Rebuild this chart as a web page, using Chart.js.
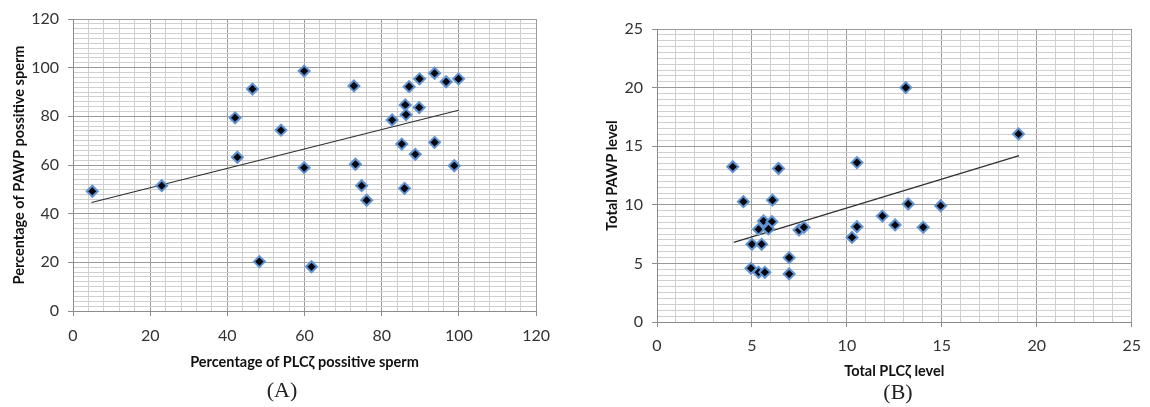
<!DOCTYPE html>
<html>
<head>
<meta charset="utf-8">
<script src="https://cdn.jsdelivr.net/npm/chart.js@4.4.1/dist/chart.umd.min.js"></script>
<style>
  html, body { margin: 0; padding: 0; background: #fff; }
  body { width: 1150px; height: 407px; position: relative; overflow: hidden; }
  .panel { position: absolute; top: 0; }
  .caption {
    position: absolute;
    font-family: "Liberation Serif", "DejaVu Serif", serif;
    font-size: 22px;
    color: #222;
    transform: translateX(-50%);
  }
</style>
</head>
<body>
<div class="panel" style="left:0;width:560px;height:380px;"><canvas id="chartA" width="560" height="380"></canvas></div>
<div class="panel" style="left:580px;width:570px;height:380px;"><canvas id="chartB" width="570" height="380"></canvas></div>
<div class="caption" style="left:282px;top:377px;">(A)</div>
<div class="caption" style="left:898px;top:379px;">(B)</div>

<script>
// Panel A: percentage of positive sperm
const aPlcz = [5, 23, 42, 42.6, 46.5, 48.3, 53.9, 59.9, 59.9, 61.8, 72.8, 73.2, 74.8, 76.1,
  82.7, 85.2, 85.9, 86.1, 86.3, 87.1, 88.7, 89.7, 89.8, 93.7, 93.7, 96.7, 98.8, 99.9];
const aPawp = [49.2, 51.5, 79.4, 63.2, 91.2, 20.3, 74.3, 98.6, 58.9, 18.2, 92.5, 60.3, 51.5, 45.5,
  78.5, 68.6, 50.4, 84.7, 80.7, 92.2, 64.4, 83.6, 95.4, 97.7, 69.3, 94.2, 59.7, 95.4];
const aTrendX = [4.8, 99.9];
const aTrendY = [44.6, 82.5];
const aXLabels = [0, 20, 40, 60, 80, 100, 120];
const aYLabels = [0, 20, 40, 60, 80, 100, 120];

// Panel B: total levels
const bPlcz = [3.99, 4.55, 6.08, 5.61, 6.05, 5.35, 5.87, 5.0, 5.51, 4.95, 5.35, 5.68, 6.96, 6.96,
  7.48, 7.74, 6.4, 10.53, 13.1, 19.04, 10.27, 10.53, 11.87, 12.54, 13.23, 14.02, 14.94];
const bPawp = [13.25, 10.27, 10.4, 8.62, 8.56, 7.91, 7.94, 6.63, 6.63, 4.58, 4.24, 4.24, 5.49, 4.1,
  7.85, 8.08, 13.1, 13.6, 20.0, 16.04, 7.22, 8.13, 9.04, 8.28, 10.07, 8.08, 9.92];
const bTrendX = [4.04, 19.07];
const bTrendY = [6.8, 14.2];
const bXLabels = [0, 5, 10, 15, 20, 25];
const bYLabels = [0, 5, 10, 15, 20, 25];

Chart.defaults.font.family = 'Lato, "Open Sans", sans-serif';
Chart.defaults.color = '#333';

function toPoints(xs, ys) {
  return xs.map((x, i) => ({ x: x, y: ys[i] }));
}

function isMajor(value, labels) {
  return labels.some(l => Math.abs(l - value) < 1e-6);
}

function makeAxis(cfg) {
  const labels = cfg.labels;
  return {
    type: 'linear',
    min: cfg.min,
    max: cfg.max,
    afterFit: (axis) => {
      if (cfg.width) axis.width = cfg.width;
      if (cfg.height) axis.height = cfg.height;
    },
    ticks: {
      stepSize: cfg.step,
      autoSkip: false,
      maxRotation: 0,
      padding: cfg.tickPadding,
      font: { size: 16 },
      color: '#333',
      callback: (value) => isMajor(value, labels) ? String(value) : ''
    },
    grid: {
      color: (ctx) => isMajor(ctx.tick.value, labels) ? '#9a9a9a' : '#cfcfcf',
      tickColor: (ctx) => isMajor(ctx.tick.value, labels) ? '#8c8c8c' : 'rgba(0,0,0,0)',
      tickLength: 5,
      lineWidth: 1
    },
    border: { color: '#8c8c8c', width: 1 },
    title: {
      display: true,
      text: cfg.title,
      color: '#111',
      font: { size: 14.5, weight: 'bold' },
      padding: cfg.titlePadding
    }
  };
}

function makeChart(id, xs, ys, tx, ty, opts) {
  const ctx = document.getElementById(id).getContext('2d');
  return new Chart(ctx, {
    type: 'scatter',
    data: {
      datasets: [
        {
          label: 'data',
          data: toPoints(xs, ys),
          pointStyle: 'rectRot',
          pointRadius: 5.5,
          pointBorderWidth: 2,
          pointBackgroundColor: '#06070f',
          pointBorderColor: '#5f93d3',
          order: 1
        },
        {
          type: 'line',
          label: 'trend',
          data: toPoints(tx, ty),
          borderColor: '#303030',
          borderWidth: 1.2,
          pointRadius: 0,
          fill: false,
          order: 2
        }
      ]
    },
    options: {
      responsive: false,
      animation: false,
      layout: { padding: opts.padding },
      plugins: {
        legend: { display: false },
        tooltip: { enabled: false }
      },
      scales: {
        x: makeAxis(opts.x),
        y: makeAxis(opts.y)
      }
    }
  });
}

makeChart('chartA', aPlcz, aPawp, aTrendX, aTrendY, {
  padding: { top: 19, right: 22, left: 0, bottom: 0 },
  x: { min: 0, max: 120, step: 4, labels: aXLabels, height: 69, tickPadding: 10,
       title: 'Percentage of PLCζ possitive sperm', titlePadding: { top: 0, bottom: 9 } },
  y: { min: 0, max: 120, step: 2, labels: aYLabels, width: 73, tickPadding: 9,
       title: 'Percentage of PAWP possitive sperm', titlePadding: { top: 11, bottom: 0 } }
});

makeChart('chartB', bPlcz, bPawp, bTrendX, bTrendY, {
  padding: { top: 29, right: 15, left: 0, bottom: 0 },
  x: { min: 0, max: 25, step: 1, labels: bXLabels, height: 58, tickPadding: 9,
       title: 'Total PLCζ level', titlePadding: { top: 0, bottom: 0 } },
  y: { min: 0, max: 25, step: 0.5, labels: bYLabels, width: 77, tickPadding: 9,
       title: 'Total PAWP level', titlePadding: { top: 24, bottom: 0 } }
});
</script>
</body>
</html>
